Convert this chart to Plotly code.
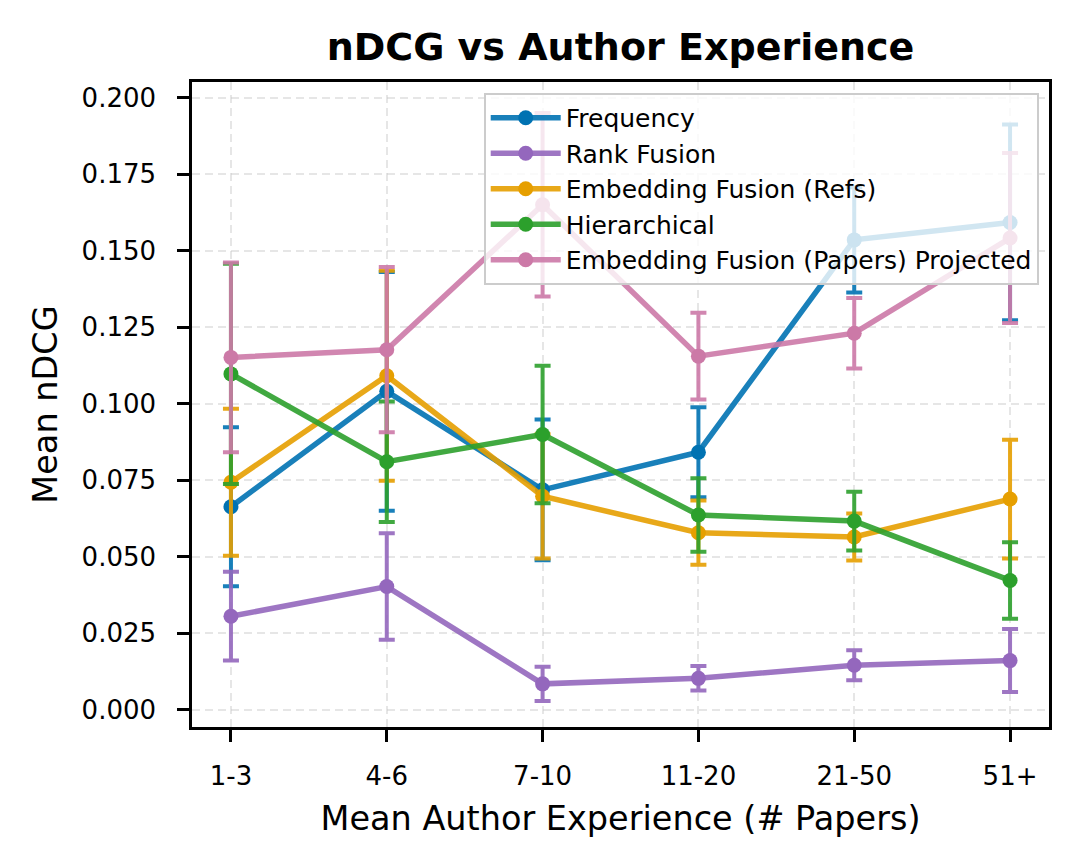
import plotly.graph_objects as go

categories = ["1-3", "4-6", "7-10", "11-20", "21-50", "51+"]

freq_mean = [0.0663, 0.1040, 0.0718, 0.0841, 0.1535, 0.1592]
freq_err = [0.0260, 0.0390, 0.0230, 0.0147, 0.0172, 0.0320]

rank_mean = [0.0305, 0.0402, 0.0084, 0.0102, 0.0145, 0.0160]
rank_err = [0.0145, 0.0174, 0.0056, 0.0040, 0.0049, 0.0103]

embref_mean = [0.0743, 0.1091, 0.0697, 0.0578, 0.0564, 0.0688]
embref_err = [0.0240, 0.0343, 0.0203, 0.0105, 0.0077, 0.0194]

hier_mean = [0.1097, 0.0810, 0.0899, 0.0636, 0.0616, 0.0422]
hier_err = [0.0360, 0.0197, 0.0225, 0.0120, 0.0096, 0.0125]

embpap_mean = [0.1151, 0.1176, 0.1650, 0.1155, 0.1230, 0.1541]
embpap_err = [0.0310, 0.0270, 0.0300, 0.0142, 0.0115, 0.0278]

series = [
    ("Frequency", freq_mean, freq_err, (0, 114, 178)),
    ("Rank Fusion", rank_mean, rank_err, (148, 103, 189)),
    ("Embedding Fusion (Refs)", embref_mean, embref_err, (230, 159, 0)),
    ("Hierarchical", hier_mean, hier_err, (44, 160, 44)),
    ("Embedding Fusion (Papers) Projected", embpap_mean, embpap_err, (204, 121, 167)),
]

fig = go.Figure()
for name, mean, err, (r, g, b) in series:
    lc = f"rgba({r},{g},{b},0.9)"
    fig.add_trace(go.Scatter(
        x=categories, y=mean, name=name, mode="lines+markers",
        legendgroup=name,
        line=dict(color=lc, width=5.5),
        marker=dict(color=f"rgb({r},{g},{b})", size=15, line=dict(width=0)),
        error_y=dict(type="data", array=err, visible=True, color=lc,
                     thickness=4, width=8),
    ))

FONT = "DejaVu Sans"
fig.update_layout(
    width=1079, height=865,
    margin=dict(l=192, r=30, t=82, b=138),
    paper_bgcolor="white", plot_bgcolor="white",
    font=dict(family=FONT, color="black"),
    title=dict(text="<b>nDCG vs Author Experience</b>", x=0.5, xref="paper",
               y=1 - 47 / 865, yref="container", yanchor="middle",
               font=dict(size=38, family=FONT, color="black")),
    legend=dict(x=0.988, y=0.983, xanchor="right", yanchor="top",
                bgcolor="rgba(255,255,255,0.8)", bordercolor="#cccccc",
                borderwidth=2, font=dict(size=25, family=FONT),
                tracegroupgap=0, itemwidth=70),
    showlegend=True,
)
fig.update_xaxes(
    type="category", range=[-0.25, 5.25],
    showline=True, mirror=True, linecolor="black", linewidth=2.5,
    ticks="outside", ticklen=12, tickwidth=2.5, tickcolor="black",
    tickfont=dict(size=26, family=FONT), ticklabelstandoff=12,
    showgrid=True, gridcolor="rgba(200,200,200,0.45)", gridwidth=2, griddash="8px,5px",
    zeroline=False,
    title=dict(text="Mean Author Experience (# Papers)", font=dict(size=33.5, family=FONT),
               standoff=17),
)
fig.update_yaxes(
    range=[-0.0057, 0.2051],
    tickvals=[0, 0.025, 0.05, 0.075, 0.1, 0.125, 0.15, 0.175, 0.2],
    tickformat=".3f",
    showline=True, mirror=True, linecolor="black", linewidth=2.5,
    ticks="outside", ticklen=12, tickwidth=2.5, tickcolor="black",
    tickfont=dict(size=26, family=FONT), ticklabelstandoff=16,
    showgrid=True, gridcolor="rgba(200,200,200,0.45)", gridwidth=2, griddash="8px,5px",
    zeroline=False,
    title=dict(text="Mean nDCG", font=dict(size=33.5, family=FONT), standoff=14),
)

fig.write_html("out.html")
